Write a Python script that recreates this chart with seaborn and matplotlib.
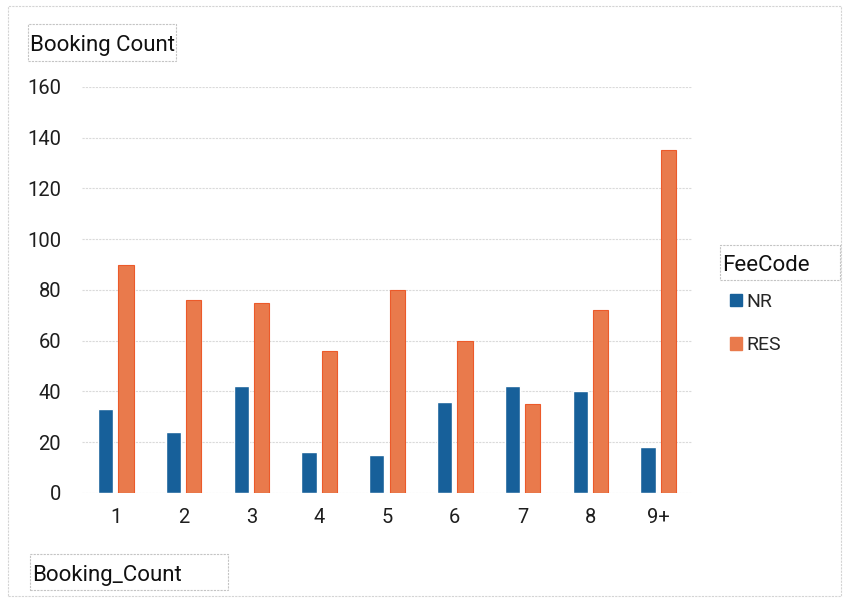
import pandas as pd
import matplotlib.pyplot as plt
import matplotlib.patches as mpatches
import seaborn as sns

# 予約件数ごとの FeeCode 別件数
booking_count = ["1", "2", "3", "4", "5", "6", "7", "8", "9+"]
nr_counts = [33, 24, 42, 16, 15, 36, 42, 40, 18]
res_counts = [90, 76, 75, 56, 80, 60, 35, 72, 135]
fee_codes = ["NR", "RES"]
y_ticks = [0, 20, 40, 60, 80, 100, 120, 140, 160]

df = pd.DataFrame({
    "Booking_Count": booking_count * 2,
    "FeeCode": ["NR"] * len(booking_count) + ["RES"] * len(booking_count),
    "Count": nr_counts + res_counts,
})

sns.set_style("white")
plt.rcParams["font.family"] = ["Roboto", "DejaVu Sans"]

blue = "#17609a"
orange = "#e97a4c"
palette = {"NR": blue, "RES": orange}

fig = plt.figure(figsize=(8.45, 5.99), dpi=100)
ax = fig.add_axes([0.097, 0.177, 0.722, 0.678])

sns.barplot(ax=ax, data=df, x="Booking_Count", y="Count", hue="FeeCode",
            order=booking_count, hue_order=fee_codes, palette=palette,
            width=0.6, gap=0.25, saturation=1, legend=False)
for patch in ax.patches:
    if patch.get_facecolor()[0] > 0.5:
        patch.set_edgecolor("#ec5a2a")
        patch.set_linewidth(0.8)

ax.set_ylim(0, 160)
ax.set_xlim(-0.5, len(booking_count) - 0.5)
ax.set_yticks(y_ticks)
ax.yaxis.grid(True, color="#dadada", linestyle=(0, (2, 1)), linewidth=0.8)
ax.set_axisbelow(True)
for s in ax.spines.values():
    s.set_visible(False)
ax.tick_params(axis="both", length=0, labelsize=14.5, colors="#1e1e1e")
ax.tick_params(axis="y", pad=15)
ax.tick_params(axis="x", pad=11)
ax.set_xlabel("")
ax.set_ylabel("")

# 枠付きのラベル
def boxed(x0, y0, x1, y1, text):
    W, H = 845, 599
    fig.patches.append(mpatches.Rectangle((x0 / W, 1 - y1 / H), (x1 - x0) / W, (y1 - y0) / H,
                                          transform=fig.transFigure, fill=False,
                                          edgecolor="#c4c4c4", linestyle=(0, (2, 1)),
                                          linewidth=0.8))
    fig.text((x0 + 2) / W, 1 - ((y0 + y1) / 2 + 3) / H, text, fontsize=16, va="center",
             ha="left", color="#111111")

boxed(28, 24, 176, 61, "Booking Count")
boxed(30, 554, 228, 590, "Booking_Count")
boxed(720, 245, 840, 280, "FeeCode")

handles = [mpatches.Patch(color=palette[c], label=c) for c in fee_codes]
fig.legend(handles=handles, loc="upper left", bbox_to_anchor=(0.843, 0.54),
           frameon=False, fontsize=14, handlelength=0.6, handleheight=0.6,
           handletextpad=0.25, labelspacing=1.3)

# 外枠
fig.patches.append(mpatches.Rectangle((0.01, 0.005), 0.985, 0.985, transform=fig.transFigure,
                                      fill=False, edgecolor="#d4d4d4",
                                      linestyle=(0, (2, 1)), linewidth=0.8))

fig.savefig("out.png", dpi=100)
